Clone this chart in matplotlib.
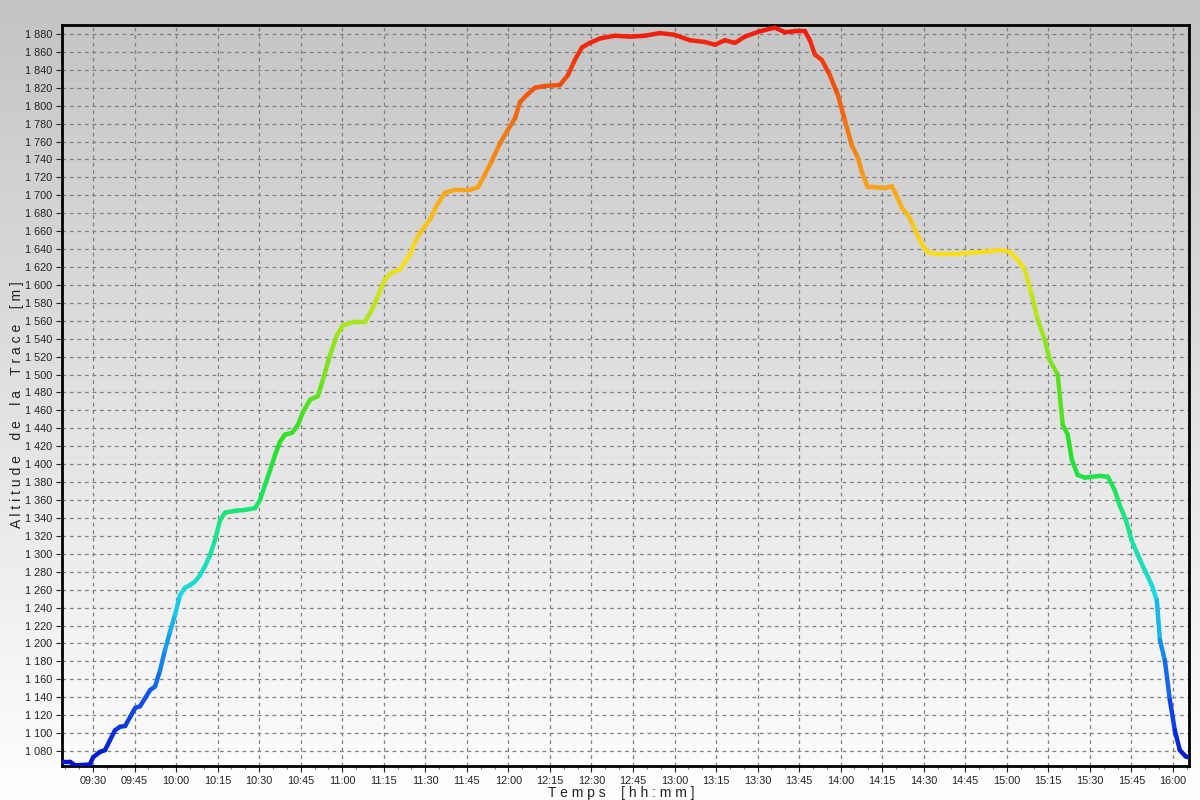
import numpy as np
import matplotlib
matplotlib.use("Agg")
import matplotlib.pyplot as plt
from matplotlib.collections import LineCollection
from matplotlib.colors import LinearSegmentedColormap, Normalize
from matplotlib.ticker import FuncFormatter, MultipleLocator

# time in minutes after midnight, altitude in metres
minutes = [558.8, 561.7, 563.5, 568.9, 570.0, 572.5, 574.3, 576.1, 577.9, 579.7,
           581.6, 583.4, 585.2, 587.0, 588.8, 590.6, 592.4, 594.2, 596.0, 597.8,
           599.6, 601.4, 603.2, 605.0, 606.8, 608.6, 610.4, 612.2, 614.0, 615.9,
           617.7, 621.3, 624.9, 628.5, 630.3, 632.1, 633.9, 635.7, 637.5, 639.3,
           641.9, 644.0, 645.8, 648.4, 651.2, 653.0, 655.6, 658.1, 660.3, 664.6,
           668.2, 670.7, 672.9, 675.4, 678.0, 680.8, 682.7, 684.5, 686.3, 688.1,
           691.7, 694.2, 697.1, 700.7, 706.1, 709.0, 711.5, 714.1, 717.0, 719.8,
           722.4, 724.2, 726.7, 729.6, 733.2, 738.6, 741.5, 744.0, 746.6, 749.4,
           753.1, 758.5, 763.9, 769.3, 774.7, 780.1, 785.6, 791.0, 794.6, 798.2,
           801.8, 805.4, 810.8, 816.2, 819.9, 823.5, 827.1, 828.9, 830.7, 833.2,
           836.1, 839.0, 841.5, 844.0, 846.2, 848.0, 849.8, 852.3, 856.0, 858.5,
           860.3, 862.1, 864.3, 866.1, 868.6, 871.1, 874.0, 883.0, 892.1, 897.5,
           901.1, 904.0, 906.5, 909.0, 911.2, 913.7, 915.5, 918.4, 920.2, 922.0,
           923.5, 925.6, 928.2, 933.6, 936.5, 939.0, 940.8, 943.0, 945.1, 947.3,
           949.8, 952.4, 954.2, 955.3, 957.1, 958.9, 960.7, 962.5, 964.6, 965.7]
altitude = [1068, 1068, 1064, 1065, 1073, 1079, 1081, 1092, 1103, 1107,
            1108, 1118, 1128, 1130, 1139, 1148, 1152, 1170, 1193, 1213,
            1232, 1254, 1262, 1265, 1269, 1276, 1286, 1298, 1315, 1338,
            1346, 1348, 1349, 1351, 1360, 1377, 1393, 1410, 1425, 1433,
            1435, 1444, 1458, 1472, 1476, 1494, 1522, 1544, 1555, 1559,
            1559, 1572, 1588, 1606, 1614, 1617, 1626, 1634, 1648, 1658,
            1673, 1689, 1703, 1706, 1706, 1709, 1723, 1739, 1758, 1773,
            1786, 1804, 1812, 1820, 1822, 1823, 1834, 1851, 1865, 1870,
            1875, 1878, 1877, 1878, 1881, 1879, 1873, 1871, 1868, 1873,
            1870, 1877, 1883, 1887, 1882, 1883, 1883, 1873, 1857, 1851,
            1834, 1812, 1784, 1756, 1742, 1723, 1709, 1709, 1708, 1710,
            1699, 1686, 1678, 1667, 1650, 1637, 1635, 1635, 1637, 1639,
            1637, 1628, 1617, 1589, 1561, 1539, 1516, 1500, 1444, 1433,
            1405, 1388, 1385, 1387, 1386, 1371, 1354, 1338, 1315, 1299,
            1282, 1265, 1248, 1204, 1181, 1137, 1103, 1081, 1074, 1073]

x_ticks = list(range(570, 961, 15))
y_ticks = list(range(1080, 1881, 20))

fig = plt.figure(figsize=(12, 8), dpi=100)

# background gradient
bg = fig.add_axes([0, 0, 1, 1], zorder=-10)
grad = np.linspace(0, 1, 256).reshape(-1, 1)
bg_cmap = LinearSegmentedColormap.from_list("bg", ["#c4c4c4", "#ffffff"])
bg.imshow(grad, aspect="auto", cmap=bg_cmap, extent=[0, 1, 0, 1], origin="upper")
bg.set_axis_off()

ax = fig.add_axes([0.0517, 0.0425, 0.9391, 0.92625])
ax.patch.set_alpha(0)

nodes = [(0.00, (0.00, 0.08, 0.80)),
         (0.10, (0.08, 0.35, 0.95)),
         (0.23, (0.10, 0.85, 0.90)),
         (0.33, (0.10, 0.90, 0.50)),
         (0.43, (0.15, 0.88, 0.15)),
         (0.60, (0.65, 0.90, 0.10)),
         (0.69, (0.98, 0.88, 0.10)),
         (0.78, (0.97, 0.65, 0.10)),
         (0.90, (0.95, 0.38, 0.05)),
         (1.00, (0.95, 0.10, 0.05))]
cmap = LinearSegmentedColormap.from_list("alt", nodes)

x = np.array(minutes)
y = np.array(altitude)
pts = np.column_stack([x, y]).reshape(-1, 1, 2)
segs = np.concatenate([pts[:-1], pts[1:]], axis=1)
vals = (y[:-1] + y[1:]) / 2
lc = LineCollection(segs, cmap=cmap, norm=Normalize(min(altitude), max(altitude)),
                    linewidths=3.2, capstyle="round", joinstyle="round", zorder=3)
lc.set_array(vals)
ax.add_collection(lc)

ax.set_xlim(558.8, 965.8)
ax.set_ylim(1063.3, 1890)
ax.set_xticks(x_ticks)
ax.set_yticks(y_ticks)
ax.xaxis.set_minor_locator(MultipleLocator(5))
ax.xaxis.set_major_formatter(FuncFormatter(lambda v, p: f"{int(v)//60:02d}:{int(v)%60:02d}"))
ax.yaxis.set_major_formatter(FuncFormatter(lambda v, p: f"{int(v):,}".replace(",", " ")))
ax.grid(True, which="major", linestyle=(0, (3, 3)), color="#808080", linewidth=0.9)
ax.tick_params(axis="both", which="major", labelsize=7.8, colors="#222222", length=4,
               width=0.8, direction="out")
ax.tick_params(axis="x", which="major", pad=3)
ax.tick_params(axis="y", which="major", pad=3)
ax.tick_params(axis="x", which="minor", length=2.5, width=0.6, color="#555555")
for lab in ax.get_xticklabels() + ax.get_yticklabels():
    lab.set_fontfamily("Liberation Sans")
for s in ax.spines.values():
    s.set_linewidth(2)
    s.set_color("black")

fig.text(0.518, 0.009, "T e m p s    [ h h : m m ]", ha="center", va="center",
         fontsize=10, family="Liberation Sans", color="#222222")
fig.text(0.0145, 0.494, "A l t i t u d e    d e    l a    T r a c e    [ m ]", ha="center",
         va="center", rotation=90, fontsize=10, family="Liberation Sans", color="#222222")

fig.savefig("out.png", dpi=100)
